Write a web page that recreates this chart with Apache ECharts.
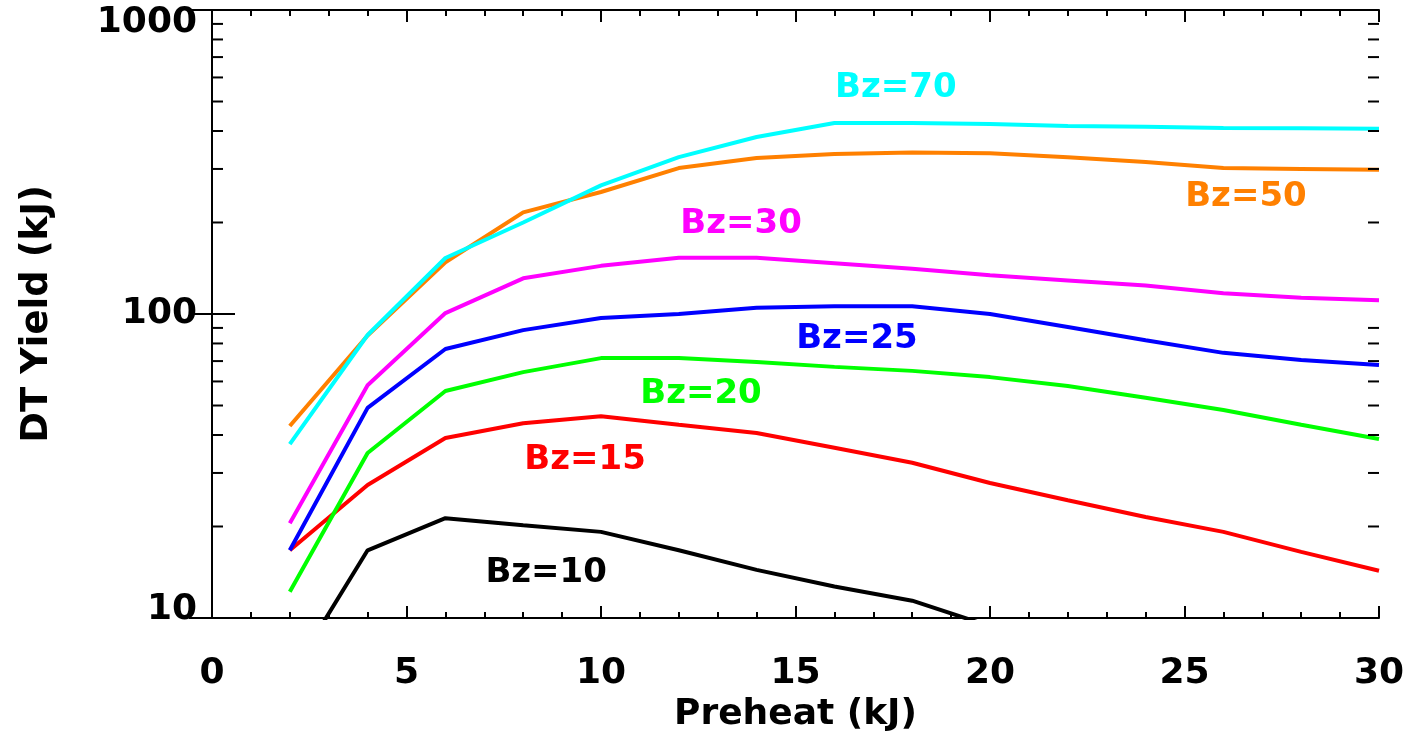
<!DOCTYPE html>
<html>
<head>
<meta charset="utf-8">
<script src="https://cdn.jsdelivr.net/npm/echarts@6/dist/echarts.min.js"></script>
<style>
  html, body { margin: 0; padding: 0; background: #ffffff; }
  #chart { width: 1409px; height: 756px; }
</style>
</head>
<body>
<div id="chart"></div>
<script>
// Preheat energy (kJ) sampled for every curve
const preheat = [2, 4, 6, 8, 10, 12, 14, 16, 18, 20, 22, 24, 26, 28, 30];

// DT yield (kJ) for each axial field strength Bz
const bz70 = [37.3, 85.3, 152.8, 200, 265, 328, 382, 425, 425, 422, 415, 413, 409, 408, 407];
const bz50 = [42.8, 85, 148, 216, 252, 302, 326, 336, 340, 338, 328, 316, 302, 300, 298];
const bz30 = [20.5, 58.3, 100.7, 131, 144, 153, 153, 147, 141, 134, 129, 124, 117, 113, 111];
const bz25 = [16.7, 49.1, 76.7, 88.5, 97, 100, 104.8, 106, 106, 100, 90.6, 82, 74.5, 70.6, 68];
const bz20 = [12.2, 34.9, 55.8, 64.4, 71.6, 71.6, 69.5, 67, 65, 62, 58, 53, 48.3, 43.2, 38.8];
const bz15 = [16.7, 27.4, 39.1, 43.7, 46.1, 43.2, 40.6, 36.3, 32.4, 27.8, 24.4, 21.5, 19.2, 16.5, 14.3];
const bz10 = [6.4, 16.7, 21.3, 20.2, 19.2, 16.7, 14.4, 12.7, 11.4, 9.4];

// Axis tick labels
const xTickLabels = ['0', '5', '10', '15', '20', '25', '30'];
const yTickLabels = ['10', '100', '1000'];
// Minor log ticks between the decades
const yMinorTicks = [20, 30, 40, 50, 60, 70, 80, 90, 200, 300, 400, 500, 600, 700, 800, 900];

// Curve names and their label anchor points in data space
const curveNames = ['Bz=70', 'Bz=50', 'Bz=30', 'Bz=25', 'Bz=20', 'Bz=15', 'Bz=10'];
const curveLabelAt = [[17.58, 553], [26.58, 242], [13.6, 198], [16.58, 82.8], [12.57, 54.6], [9.59, 33.1], [8.59, 14.06]];

const curveValues = [bz70, bz50, bz30, bz25, bz20, bz15, bz10];
const curveColors = ['#00ffff', '#ff8000', '#ff00ff', '#0000ff', '#00ff00', '#ff0000', '#000000'];

const FONT = '"DejaVu Sans", "Liberation Sans", Arial, sans-serif';

const chart = echarts.init(document.getElementById('chart'), null, { renderer: 'canvas' });

const lineSeries = curveValues.map((vals, i) => ({
  name: curveNames[i],
  type: 'line',
  xAxisIndex: 0,
  yAxisIndex: 0,
  data: vals.map((v, j) => [preheat[j], v]),
  showSymbol: false,
  symbol: 'none',
  clip: true,
  z: 10 - i,
  lineStyle: { color: curveColors[i], width: 4 },
  itemStyle: { color: curveColors[i] },
  markPoint: {
    symbol: 'circle',
    symbolSize: 0,
    silent: true,
    data: [{ coord: curveLabelAt[i], value: curveNames[i] }],
    label: {
      show: true,
      position: 'inside',
      formatter: curveNames[i],
      color: curveColors[i],
      fontFamily: FONT,
      fontWeight: 'bold',
      fontSize: 34
    }
  }
}));

// Minor tick marks on the left and right log axes
const minorTickSeries = {
  type: 'custom',
  xAxisIndex: 0,
  yAxisIndex: 0,
  silent: true,
  clip: false,
  data: yMinorTicks.map(v => [0, v]),
  renderItem: function (params, api) {
    const p = api.coord([0, api.value(1)]);
    const r = api.coord([30, api.value(1)]);
    return {
      type: 'group',
      children: [
        { type: 'line', shape: { x1: p[0], y1: p[1], x2: p[0] + 11, y2: p[1] }, style: { stroke: '#000', lineWidth: 2 } },
        { type: 'line', shape: { x1: r[0], y1: r[1], x2: r[0] - 11, y2: r[1] }, style: { stroke: '#000', lineWidth: 2 } }
      ]
    };
  },
  z: 20
};

const axisLineStyle = { lineStyle: { color: '#000', width: 2 } };

chart.setOption({
  backgroundColor: '#ffffff',
  animation: false,
  grid: { left: 212, right: 30, top: 10, bottom: 138, containLabel: false },
  xAxis: [
    {
      type: 'value', position: 'bottom', min: 0, max: 30, interval: 5,
      axisLine: axisLineStyle,
      axisTick: { inside: true, length: 12, lineStyle: { color: '#000', width: 2 } },
      minorTick: { show: true, splitNumber: 5, length: 6, lineStyle: { color: '#000', width: 2 } },
      splitLine: { show: false },
      axisLabel: {
        margin: 38, color: '#000', fontFamily: FONT, fontWeight: 'bold', fontSize: 36,
        formatter: v => xTickLabels[Math.round(v / 5)]
      },
      name: 'Preheat (kJ)', nameLocation: 'middle', nameGap: 67,
      nameTextStyle: { color: '#000', fontFamily: FONT, fontWeight: 'bold', fontSize: 36 }
    },
    {
      type: 'value', position: 'top', min: 0, max: 30, interval: 5,
      axisLine: axisLineStyle,
      axisTick: { inside: true, length: 12, lineStyle: { color: '#000', width: 2 } },
      minorTick: { show: true, splitNumber: 5, length: 6, lineStyle: { color: '#000', width: 2 } },
      splitLine: { show: false },
      axisLabel: { show: false }
    }
  ],
  yAxis: [
    {
      type: 'log', logBase: 10, position: 'left', min: 10, max: 1000,
      axisLine: axisLineStyle,
      axisTick: { inside: true, length: 23, lineStyle: { color: '#000', width: 2 } },
      splitLine: { show: false },
      axisLabel: {
        margin: 15, color: '#000', fontFamily: FONT, fontWeight: 'bold', fontSize: 36,
        formatter: function (v) {
          const k = Math.round(Math.log10(v)) - 1;
          const t = yTickLabels[k];
          if (k === 2) return '{top|' + t + '}';
          if (k === 0) return '{bot|' + t + '}';
          return t;
        },
        rich: {
          top: { fontFamily: FONT, fontWeight: 'bold', fontSize: 36, color: '#000', padding: [26, 0, 0, 0] },
          bot: { fontFamily: FONT, fontWeight: 'bold', fontSize: 36, color: '#000', padding: [0, 0, 16, 0] }
        }
      },
      name: 'DT Yield (kJ)', nameLocation: 'middle', nameGap: 156,
      nameTextStyle: { color: '#000', fontFamily: FONT, fontWeight: 'bold', fontSize: 37 }
    },
    {
      type: 'log', logBase: 10, position: 'right', min: 10, max: 1000,
      axisLine: axisLineStyle,
      axisTick: { inside: true, length: 23, lineStyle: { color: '#000', width: 2 } },
      splitLine: { show: false },
      axisLabel: { show: false }
    }
  ],
  series: lineSeries.concat([minorTickSeries])
});
</script>
</body>
</html>
